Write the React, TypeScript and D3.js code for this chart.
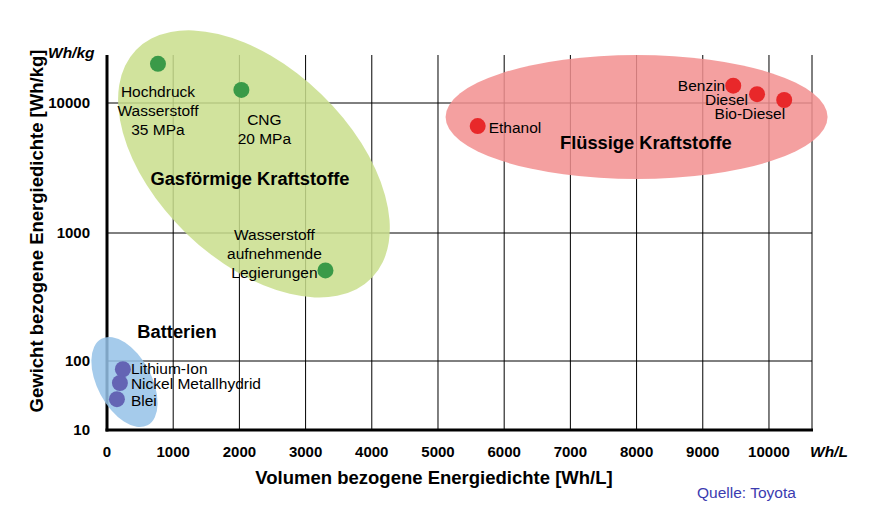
import React from 'react';
import * as d3 from 'd3';

// fuels / storage media
const names = ['Hochdruck Wasserstoff 35 MPa', 'CNG 20 MPa', 'Wasserstoff aufnehmende Legierungen', 'Ethanol', 'Benzin', 'Diesel', 'Bio-Diesel', 'Lithium-Ion', 'Nickel Metallhydrid', 'Blei'];
const volumeDensity = [770, 2030, 3300, 5600, 9460, 9820, 10230, 240, 195, 150]; // Wh/L
const weightDensity = [20000, 12600, 510, 6650, 13600, 11700, 10550, 76, 48, 28]; // Wh/kg
const groupOf = ['gas', 'gas', 'gas', 'liquid', 'liquid', 'liquid', 'liquid', 'battery', 'battery', 'battery'];

const groups = ['gas', 'liquid', 'battery'];
const groupTitles = ['Gasförmige Kraftstoffe', 'Flüssige Kraftstoffe', 'Batterien'];
const groupCenterX = [2220, 8000, 264];
const groupCenterY = [3400, 7800, 49.6];
const groupTitleX = [2160, 8140, 1057];
const groupTitleY = [2600, 4920, 168];

const xTicks = [0, 1000, 2000, 3000, 4000, 5000, 6000, 7000, 8000, 9000, 10000];
const yTicks = [10, 100, 1000, 10000];

// label layout (lines, offsets from the dot in px, anchor)
const labelLayout = [
  { lines: ['Hochdruck', 'Wasserstoff', '35 MPa'], dx: 0, dy: 33, anchor: 'middle' },
  { lines: ['CNG', '20 MPa'], dx: 23, dy: 35, anchor: 'middle' },
  { lines: ['Wasserstoff', 'aufnehmende', 'Legierungen'], dx: -51, dy: -30, anchor: 'middle' },
  { lines: ['Ethanol'], dx: 11, dy: 7, anchor: 'start' },
  { lines: ['Benzin'], dx: -8, dy: 5, anchor: 'end' },
  { lines: ['Diesel'], dx: -9, dy: 11, anchor: 'end' },
  { lines: ['Bio-Diesel'], dx: 1, dy: 19, anchor: 'end' },
  { lines: ['Lithium-Ion'], dx: 8, dy: 5, anchor: 'start' },
  { lines: ['Nickel Metallhydrid'], dx: 11, dy: 6, anchor: 'start' },
  { lines: ['Blei'], dx: 14, dy: 7, anchor: 'start' },
];

const groupStyle = {
  gas: { fill: '#c9de8c', dot: '#3a9a48', rx: 164, ry: 97, rot: 44 },
  liquid: { fill: '#f28f8f', dot: '#e8282a', rx: 191, ry: 62, rot: 0 },
  battery: { fill: '#95c2e8', dot: '#6464b4', rx: 49, ry: 27, rot: 62 },
};

const font = '"Liberation Sans", Arial, sans-serif';

export default function App() {
  const W = 881, H = 508;
  const x = d3.scaleLinear().domain([0, 10650]).range([107, 812]);
  // piecewise log axis, as in the original the lowest decade is squeezed
  const y = d3.scaleLog().domain([10, 100, 1000, 10000, 23400]).range([430, 361, 233, 103, 55]);
  const [x0, x1] = x.range();
  const yTop = y(23400);
  const yBot = y(10);

  return (
    <svg width={W} height={H} style={{ position: 'absolute', left: 0, top: 0, background: '#fff' }} fontFamily={font}>
      {/* grid */}
      {xTicks.slice(1).map(t => (
        <line key={'gx' + t} x1={x(t)} x2={x(t)} y1={yTop} y2={yBot} stroke="#000" strokeWidth={1} />
      ))}
      <line x1={x1} x2={x1} y1={yTop} y2={yBot} stroke="#000" strokeWidth={1} />
      {yTicks.slice(1).map(t => (
        <line key={'gy' + t} x1={x0} x2={x1} y1={y(t)} y2={y(t)} stroke="#000" strokeWidth={1} />
      ))}
      {/* axes */}
      <line x1={x0} x2={x0} y1={yTop} y2={yBot + 1.5} stroke="#000" strokeWidth={3} />
      <line x1={x0 - 1.5} x2={x1 + 1} y1={yBot} y2={yBot} stroke="#000" strokeWidth={3} />

      {/* group ellipses */}
      {groups.map((g, i) => {
        const s = groupStyle[g];
        const cx = x(groupCenterX[i]);
        const cy = y(groupCenterY[i]);
        return (
          <ellipse key={g} cx={cx} cy={cy} rx={s.rx} ry={s.ry} fill={s.fill} fillOpacity={0.85}
            transform={`rotate(${s.rot},${cx},${cy})`} />
        );
      })}

      {/* tick labels */}
      {xTicks.map(t => (
        <text key={'xt' + t} x={x(t)} y={457} textAnchor="middle" fontSize={15} fontWeight="bold">{t}</text>
      ))}
      {yTicks.map(t => (
        <text key={'yt' + t} x={90} y={y(t) + 5} textAnchor="end" fontSize={15} fontWeight="bold">{t}</text>
      ))}
      <text x={48} y={58} fontSize={15.5} fontWeight="bold" fontStyle="italic">Wh/kg</text>
      <text x={810} y={457} fontSize={15.5} fontWeight="bold" fontStyle="italic">Wh/L</text>

      {/* axis titles */}
      <text x={434} y={484} textAnchor="middle" fontSize={18.5} fontWeight="bold">Volumen bezogene Energiedichte [Wh/L]</text>
      <text transform={`translate(43,231) rotate(-90)`} textAnchor="middle" fontSize={18.5} fontWeight="bold">Gewicht bezogene Energiedichte [Wh/kg]</text>
      <text x={697} y={498} fontSize={15.5} fill="#3b3bb0">Quelle: Toyota</text>

      {/* group titles */}
      {groups.map((g, i) => (
        <text key={'gt' + g} x={x(groupTitleX[i])} y={y(groupTitleY[i]) + 6} textAnchor="middle" fontSize={18.3} fontWeight="bold">
          {groupTitles[i]}
        </text>
      ))}

      {/* points */}
      {names.map((n, i) => (
        <circle key={'p' + i} cx={x(volumeDensity[i])} cy={y(weightDensity[i])} r={8} fill={groupStyle[groupOf[i]].dot} />
      ))}
      {names.map((n, i) => {
        const L = labelLayout[i];
        const px = x(volumeDensity[i]) + L.dx;
        const py = y(weightDensity[i]) + L.dy;
        return (
          <text key={'l' + i} x={px} y={py} textAnchor={L.anchor} fontSize={15.5}>
            {L.lines.map((ln, j) => (
              <tspan key={j} x={px} dy={j === 0 ? 0 : 19}>{ln}</tspan>
            ))}
          </text>
        );
      })}
    </svg>
  );
}
